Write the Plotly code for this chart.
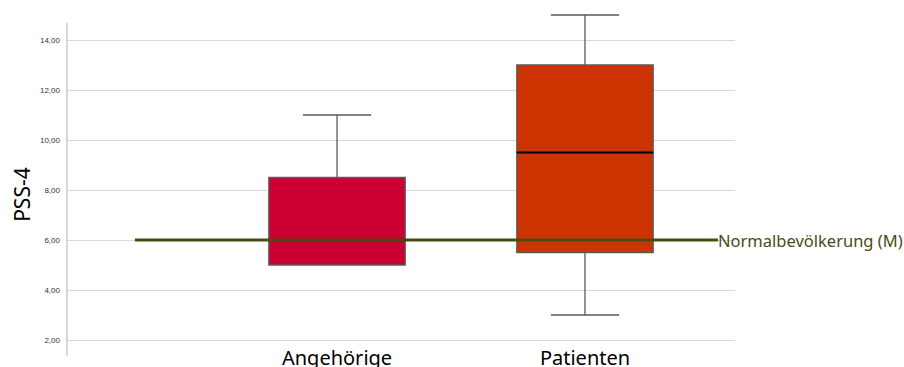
import plotly.graph_objects as go

categories = ["Angehörige", "Patienten"]
q1 = [5.0, 5.5]
median = [6.0, 9.5]
q3 = [8.5, 13.0]
lower_whisker = [5.0, 3.0]
upper_whisker = [11.0, 15.0]
box_colors = ["#cc0033", "#cc3300"]
reference_value = 6.0
reference_label = "Normalbevölkerung (M)"
y_title = "PSS-4"
y_ticks = [2, 4, 6, 8, 10, 12, 14]

BOX_W = 0.55
fig = go.Figure()
for i, cat in enumerate(categories):
    fig.add_trace(go.Box(
        x=[i], q1=[q1[i]], median=[median[i]], q3=[q3[i]],
        lowerfence=[lower_whisker[i]], upperfence=[upper_whisker[i]],
        fillcolor=box_colors[i], line=dict(color="#5a5a5a", width=1.3),
        width=BOX_W, whiskerwidth=0.5, showlegend=False, hoverinfo="skip",
    ))
    fig.add_shape(type="line", xref="x", yref="y",
                  x0=i - BOX_W / 2, x1=i + BOX_W / 2, y0=median[i], y1=median[i],
                  line=dict(color="black", width=2.2), layer="above")

fig.add_shape(type="line", xref="x", yref="y", x0=-0.815, x1=1.536,
              y0=reference_value, y1=reference_value,
              line=dict(color="#4a4a12", width=3), layer="above")
fig.add_annotation(x=1.536, y=reference_value, xref="x", yref="y",
                   text=reference_label, showarrow=False, xanchor="left",
                   yanchor="middle", xshift=-2,
                   font=dict(family="Noto Sans", size=16.5, color="#4a4a12"))

# y axis title placed as in the reference (below the plot-area centre)
fig.add_annotation(x=0, y=0.44, xref="paper", yref="paper", text=y_title,
                   showarrow=False, textangle=-90, xanchor="center",
                   yanchor="middle", xshift=-45,
                   font=dict(family="Noto Sans", size=21, color="black"))

# y axis line (extends slightly below the plot area as in the reference)
fig.add_shape(type="line", xref="paper", yref="paper", x0=0, x1=0,
              y0=-0.035, y1=0.947, line=dict(color="#b0b0b0", width=1))

fig.update_layout(
    width=904, height=367,
    margin=dict(l=67, r=169, t=5, b=23),
    plot_bgcolor="white", paper_bgcolor="white",
    separators=",.",
    xaxis=dict(range=[-1.089, 1.605], tickvals=[0, 1], ticktext=categories,
               showgrid=False, zeroline=False, showline=False, automargin=False,
               tickfont=dict(family="Noto Sans", size=20, color="black"), ticks=""),
    yaxis=dict(range=[1.84, 15.4], tickvals=y_ticks, tickformat=".2f",
               showgrid=True, gridcolor="#d9d9d9", gridwidth=1,
               zeroline=False, showline=False,
               ticks="", automargin=False, ticklabelstandoff=6,
               tickfont=dict(family="Liberation Sans", size=8, color="#333333")),
)

fig.write_html("out.html", config={"displayModeBar": False},
               post_script="document.body.style.margin='0px';")
